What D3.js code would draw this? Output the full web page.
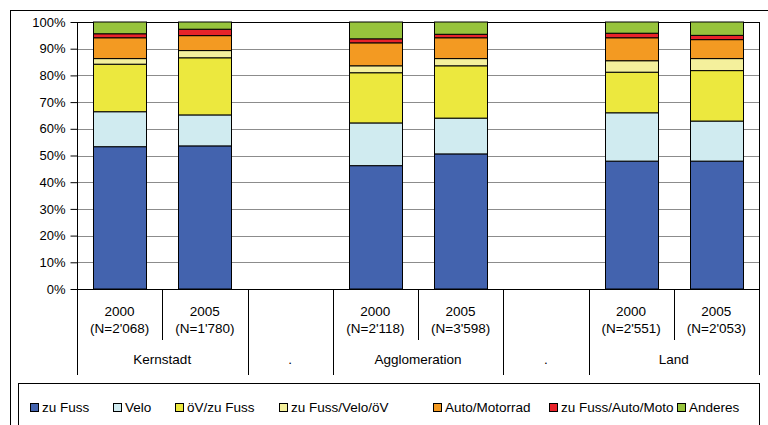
<!DOCTYPE html>
<html>
<head>
<meta charset="utf-8">
<script src="https://cdn.jsdelivr.net/npm/d3@7"></script>
<style>
  html, body { margin: 0; padding: 0; background: #fff; }
  svg { display: block; font-family: "Liberation Sans", Arial, sans-serif; }
</style>
</head>
<body>
<svg id="chart" width="768" height="425"></svg>
<script>
// ---- Data ----
const slotKeys = ["K2000", "K2005", "gap1", "A2000", "A2005", "gap2", "L2000", "L2005"];
const yearLabels = ["2000", "2005", "", "2000", "2005", "", "2000", "2005"];
const nLabels = ["(N=2'068)", "(N=1'780)", "", "(N=2'118)", "(N=3'598)", "", "(N=2'551)", "(N=2'053)"];
const groupLabels = ["Kernstadt", ".", "Agglomeration", ".", "Land"];
const groupSpans = [[0, 2], [2, 3], [3, 5], [5, 6], [6, 8]];
const seriesNames = ["zu Fuss", "Velo", "öV/zu Fuss", "zu Fuss/Velo/öV", "Auto/Motorrad", "zu Fuss/Auto/Moto", "Anderes"];
const seriesColors = ["#4363ae", "#d0ebf0", "#ece83e", "#f4f09c", "#f39a22", "#e8232a", "#97c33c"];
const zuFuss         = [53.3, 53.6, 0, 46.2, 50.6, 0, 47.9, 47.9];
const velo           = [13.1, 11.6, 0, 16.0, 13.4, 0, 18.1, 15.0];
const oevZuFuss      = [17.8, 21.4, 0, 18.8, 19.6, 0, 15.2, 18.9];
const zuFussVeloOev  = [2.1, 2.7, 0, 2.6, 2.7, 0, 4.3, 4.5];
const autoMotorrad   = [7.8, 5.6, 0, 8.6, 7.8, 0, 8.6, 7.1];
const zuFussAutoMoto = [1.5, 2.4, 0, 1.5, 1.3, 0, 1.7, 1.6];
const anderes        = [4.4, 2.7, 0, 6.3, 4.6, 0, 4.2, 5.0];
const hasBar = [true, true, false, true, true, false, true, true];
const yTicks = [0, 10, 20, 30, 40, 50, 60, 70, 80, 90, 100];

const seriesValues = [zuFuss, velo, oevZuFuss, zuFussVeloOev, autoMotorrad, zuFussAutoMoto, anderes];
const table = slotKeys.map((k, i) => {
  const row = { key: k, has: hasBar[i] };
  seriesNames.forEach((s, j) => { row[s] = seriesValues[j][i]; });
  return row;
});

// ---- Layout ----
const svg = d3.select("#chart");
const plot = { left: 77, right: 759, top: 22, bottom: 289 };
const labelSize = 13.5;

// Outer frame
svg.append("rect").attr("x", 10.5).attr("y", 10.5).attr("width", 800).attr("height", 500)
  .attr("fill", "none").attr("stroke", "#000").attr("stroke-width", 1);

const x = d3.scaleBand().domain(slotKeys).range([plot.left, plot.right])
  .paddingInner(0.38).paddingOuter(0.19);
const y = d3.scaleLinear().domain([0, 100]).range([plot.bottom, plot.top]);
const step = x.step();
const slotStart = k => x(k) - step * 0.19;

// Gridlines
svg.append("g").selectAll("line").data(yTicks.filter(t => t > 0 && t < 100)).join("line")
  .attr("x1", plot.left).attr("x2", plot.right)
  .attr("y1", d => Math.round(y(d)) + 0.5).attr("y2", d => Math.round(y(d)) + 0.5)
  .attr("stroke", "#8c8c8c").attr("stroke-width", 1);
// top & right border of plot
svg.append("line").attr("x1", plot.left).attr("x2", plot.right)
  .attr("y1", y(100) + 0.5).attr("y2", y(100) + 0.5).attr("stroke", "#000");
svg.append("line").attr("x1", plot.right + 0.5).attr("x2", plot.right + 0.5)
  .attr("y1", y(100)).attr("y2", y(0)).attr("stroke", "#000");

// Bars
const stack = d3.stack().keys(seriesNames);
const stacked = stack(table);
svg.append("g").selectAll("g").data(stacked).join("g")
  .attr("fill", (d, i) => seriesColors[i])
  .selectAll("rect").data(d => d.filter(p => p.data.has)).join("rect")
  .attr("x", d => Math.round(x(d.data.key)) + 0.5)
  .attr("width", Math.round(x.bandwidth()))
  .attr("y", d => y(d[1]))
  .attr("height", d => y(d[0]) - y(d[1]))
  .attr("stroke", "#000").attr("stroke-width", 1);

// Y axis
const yAxis = d3.axisLeft(y).tickValues(yTicks).tickFormat(d => d + "%").tickSize(7).tickPadding(5);
const gy = svg.append("g").attr("transform", `translate(${plot.left + 0.5},0)`).call(yAxis);
gy.select(".domain").remove();
gy.selectAll(".tick line").attr("stroke", "#000");
gy.selectAll(".tick text").attr("font-size", 13).attr("fill", "#000")
  .attr("font-family", "Liberation Sans, Arial, sans-serif");
// axis vertical line extends down through category area
svg.append("line").attr("x1", plot.left + 0.5).attr("x2", plot.left + 0.5)
  .attr("y1", plot.top).attr("y2", 375).attr("stroke", "#000");
// x axis line
svg.append("line").attr("x1", plot.left).attr("x2", plot.right)
  .attr("y1", y(0) + 0.5).attr("y2", y(0) + 0.5).attr("stroke", "#000");

// Category separators
const cat = svg.append("g");
slotKeys.forEach((k, i) => {
  if (i === 0) return;
  const xs = Math.round(slotStart(k)) + 0.5;
  const isShort = hasBar[i] && hasBar[i - 1];
  cat.append("line").attr("x1", xs).attr("x2", xs)
    .attr("y1", plot.bottom).attr("y2", isShort ? 340 : 375)
    .attr("stroke", "#000");
});
cat.append("line").attr("x1", plot.right + 0.5).attr("x2", plot.right + 0.5)
  .attr("y1", plot.bottom).attr("y2", 375).attr("stroke", "#000");

// Category labels
slotKeys.forEach((k, i) => {
  const cx = x(k) + x.bandwidth() / 2;
  if (yearLabels[i]) {
    cat.append("text").attr("x", cx).attr("y", 316).attr("text-anchor", "middle")
      .attr("font-size", labelSize).text(yearLabels[i]);
    cat.append("text").attr("x", cx).attr("y", 333).attr("text-anchor", "middle")
      .attr("font-size", labelSize).text(nLabels[i]);
  }
});
groupLabels.forEach((g, gi) => {
  const [a, b] = groupSpans[gi];
  const x0 = slotStart(slotKeys[a]);
  const x1 = slotStart(slotKeys[a]) + step * (b - a);
  cat.append("text").attr("x", (x0 + x1) / 2).attr("y", 364).attr("text-anchor", "middle")
    .attr("font-size", labelSize).text(g);
});

// Legend
svg.append("rect").attr("x", 18.5).attr("y", 383.5).attr("width", 741).attr("height", 80)
  .attr("fill", "#fff").attr("stroke", "#000");
const legendX = [30, 113, 175, 279, 433, 549, 677];
const lg = svg.append("g");
seriesNames.forEach((s, i) => {
  const g = lg.append("g").attr("transform", `translate(${legendX[i]},0)`);
  g.append("rect").attr("x", 0.5).attr("y", 403.5).attr("width", 8).attr("height", 8)
    .attr("fill", seriesColors[i]).attr("stroke", "#000").attr("stroke-width", 1);
  g.append("text").attr("x", 12).attr("y", 412).attr("font-size", labelSize).text(s);
});
</script>
</body>
</html>
